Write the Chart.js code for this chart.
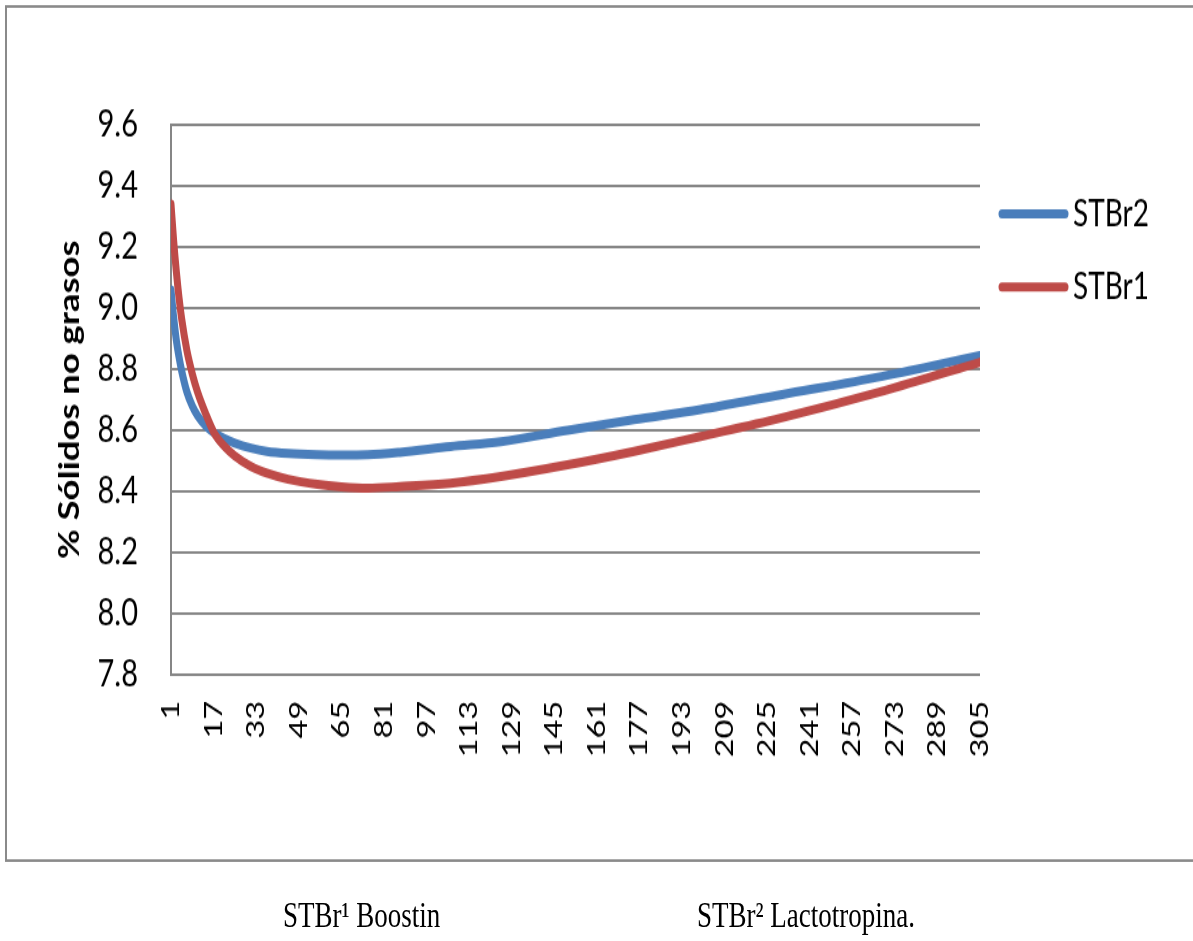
<!DOCTYPE html>
<html>
<head>
<meta charset="utf-8">
<script src="https://cdn.jsdelivr.net/npm/chart.js@4.4.1/dist/chart.umd.min.js"></script>
<style>
  html, body { margin: 0; padding: 0; background: #fff; overflow: hidden; }
  /* the whole sheet is drawn a bit flatter and stretched vertically */
  #hoja { position: absolute; left: 0; top: 0; width: 1193px; height: 724px;
          transform: scaleY(1.3); transform-origin: 0 0; }
  #marco { position: absolute; left: 5px; top: 4px; width: 1210px; height: 659px;
           box-sizing: border-box; border: 2px solid #8a8a8a; }
  #grafico { position: absolute; left: 5px; top: 5px; }
  .nota { position: absolute; top: 691px; font-family: "Liberation Serif", "Times New Roman", serif;
          font-size: 27px; line-height: 27px; color: #000; white-space: nowrap; }
</style>
</head>
<body>
<div id="hoja">
  <div id="marco"></div>
  <canvas id="grafico" width="1188" height="652"></canvas>
  <div class="nota" style="left:283px">STBr¹ Boostin</div>
  <div class="nota" style="left:697px">STBr² Lactotropina.</div>
</div>
<script>
// días de lactancia
const dias = [1, 2, 3, 4, 5, 7, 9, 11, 14, 17, 21, 25, 31, 37, 45, 56, 65, 75, 87, 106, 125, 150, 175, 200, 230, 268, 305];
// % sólidos no grasos, Lactotropina
const stbr2 = [9.06, 8.97, 8.895, 8.84, 8.795, 8.725, 8.68, 8.648, 8.615, 8.593, 8.573, 8.558, 8.542, 8.531, 8.524, 8.52, 8.519, 8.52, 8.528, 8.547, 8.563, 8.60, 8.635, 8.668, 8.716, 8.776, 8.845];
// % sólidos no grasos, Boostin
const stbr1 = [9.34, 9.22, 9.12, 9.035, 8.965, 8.86, 8.785, 8.725, 8.655, 8.595, 8.548, 8.516, 8.482, 8.46, 8.44, 8.423, 8.415, 8.411, 8.416, 8.427, 8.449, 8.487, 8.531, 8.58, 8.64, 8.727, 8.823];

const diasTicks = [1, 17, 33, 49, 65, 81, 97, 113, 129, 145, 161, 177, 193, 209, 225, 241, 257, 273, 289, 305];
const yTicks = [7.8, 8.0, 8.2, 8.4, 8.6, 8.8, 9.0, 9.2, 9.4, 9.6];

const azul = '#4a7ebb';
const rojo = '#be4b48';

// leyenda a la derecha, STBr2 arriba
const leyenda = {
  id: 'leyenda',
  afterDraw(chart) {
    const ctx = chart.ctx;
    const filas = [chart.data.datasets[0], chart.data.datasets[1]];
    ctx.save();
    ctx.font = '28px Lato';
    ctx.textBaseline = 'middle';
    ctx.textAlign = 'left';
    filas.forEach((ds, i) => {
      const y = 159.6 + i * 56.2;
      ctx.strokeStyle = ds.borderColor;
      ctx.lineWidth = 7;
      ctx.lineCap = 'round';
      ctx.beginPath();
      ctx.moveTo(997, y);
      ctx.lineTo(1060, y);
      ctx.stroke();
      ctx.fillStyle = '#000';
      ctx.fillText(ds.label, 1068, y);
    });
    ctx.restore();
  }
};

const serie = vals => dias.map((d, i) => ({ x: d, y: vals[i] }));

new Chart(document.getElementById('grafico'), {
  type: 'line',
  data: {
    datasets: [
      { label: 'STBr2', data: serie(stbr2), borderColor: azul, order: 1 },
      { label: 'STBr1', data: serie(stbr1), borderColor: rojo, order: 0 }
    ]
  },
  options: {
    responsive: false,
    animation: false,
    devicePixelRatio: 1,
    layout: { padding: { top: 91, right: 213, bottom: 0, left: 0 } },
    elements: {
      line: { borderWidth: 7, borderCapStyle: 'round', borderJoinStyle: 'round',
              cubicInterpolationMode: 'monotone', fill: false },
      point: { radius: 0, hoverRadius: 0 }
    },
    plugins: { legend: { display: false }, tooltip: { enabled: false } },
    scales: {
      x: {
        type: 'linear', min: 1, max: 305,
        afterBuildTicks: s => { s.ticks = diasTicks.map(v => ({ value: v })); },
        afterFit: s => { s.height = 138; },
        grid: { display: false, drawTicks: false },
        border: { display: false },
        ticks: { autoSkip: false, minRotation: 90, maxRotation: 90, padding: 20, color: '#000',
                 font: { family: 'Lato', size: 25 }, callback: v => String(v) }
      },
      y: {
        min: 7.8, max: 9.6,
        afterBuildTicks: s => { s.ticks = yTicks.map(v => ({ value: v })); },
        afterFit: s => { s.width = 166; },
        grid: { color: '#868686', lineWidth: 2, drawTicks: false },
        border: { color: '#868686', width: 2 },
        ticks: { padding: 33, color: '#000', font: { family: 'Lato', size: 29 },
                 callback: v => v.toFixed(1) },
        title: { display: true, text: '% Sólidos no grasos', color: '#000',
                 font: { family: 'Lato', size: 28, weight: 'bold' }, padding: { top: 48, bottom: 0 } }
      }
    }
  },
  plugins: [leyenda]
});
</script>
</body>
</html>
